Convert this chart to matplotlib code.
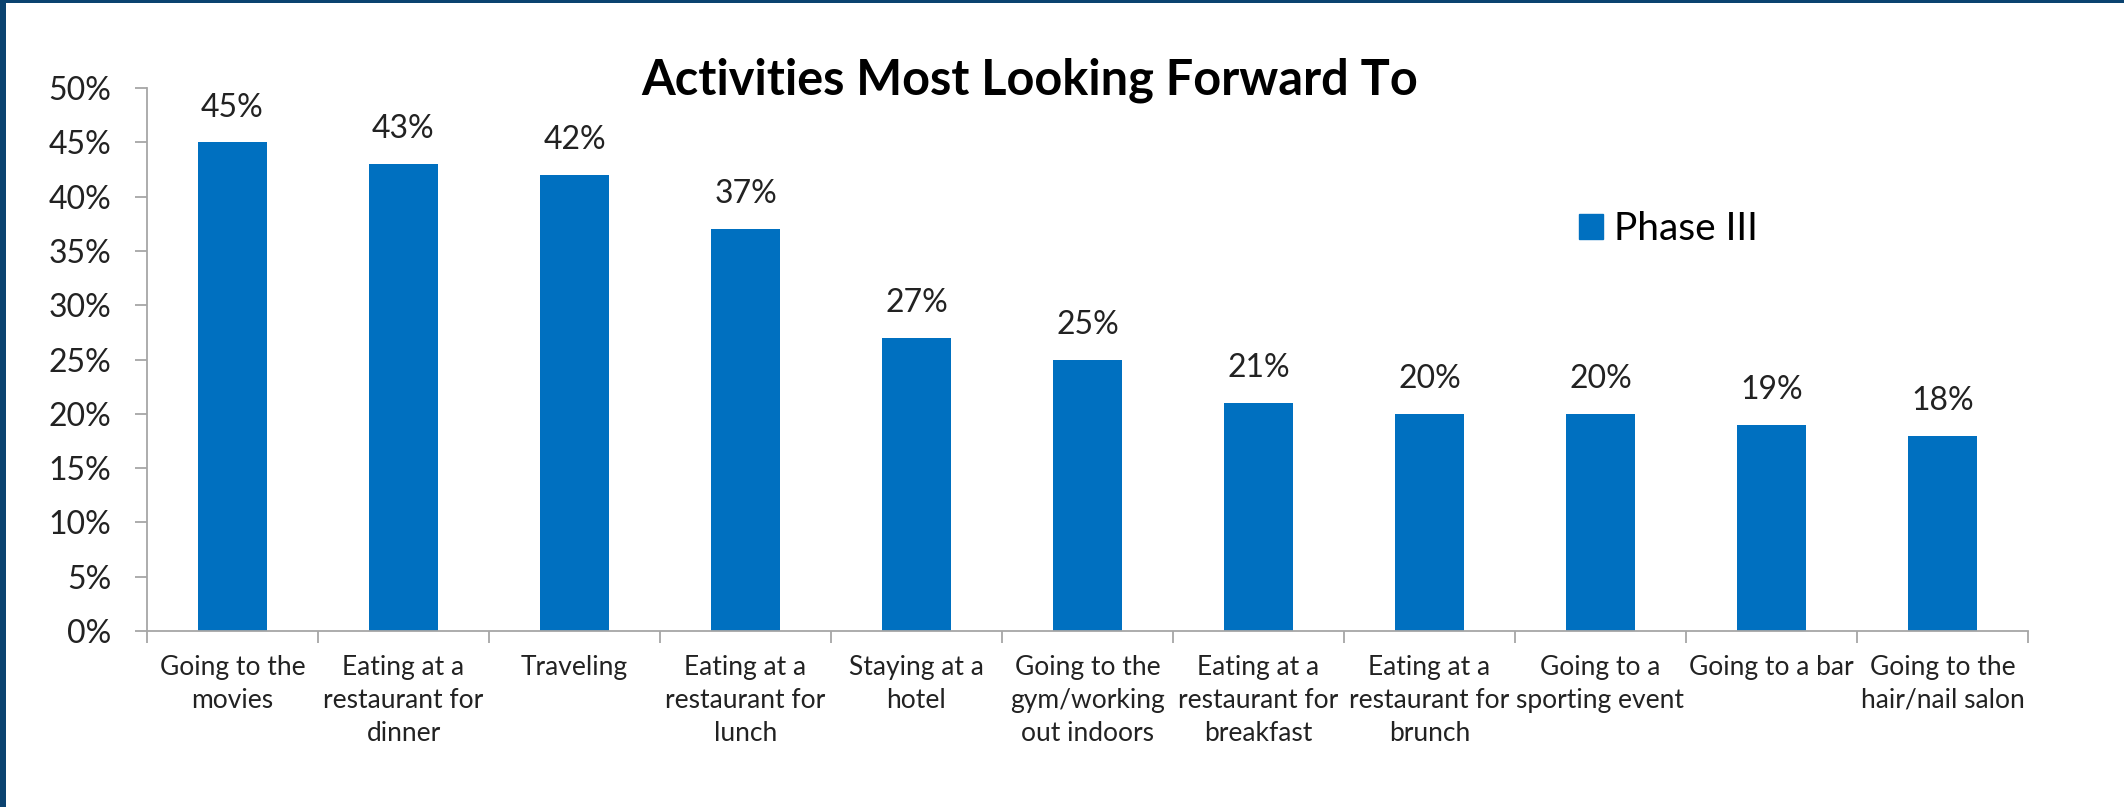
import matplotlib
matplotlib.use("Agg")
import matplotlib.pyplot as plt
from matplotlib.patches import Patch, Rectangle

activities = [
    "Going to the\nmovies",
    "Eating at a\nrestaurant for\ndinner",
    "Traveling",
    "Eating at a\nrestaurant for\nlunch",
    "Staying at a\nhotel",
    "Going to the\ngym/working\nout indoors",
    "Eating at a\nrestaurant for\nbreakfast",
    "Eating at a\nrestaurant for\nbrunch",
    "Going to a\nsporting event",
    "Going to a bar",
    "Going to the\nhair/nail salon",
]
phase3 = [45, 43, 42, 37, 27, 25, 21, 20, 20, 19, 18]
yticks = [0, 5, 10, 15, 20, 25, 30, 35, 40, 45, 50]

bar_color = "#0070C0"
axis_color = "#A6A6A6"
frame_color = "#0B4370"
text_color = "#222222"
plt.rcParams["font.family"] = ["Lato", "DejaVu Sans"]

W, H = 2124, 807
fig = plt.figure(figsize=(W / 100, H / 100), dpi=100)
ax = fig.add_axes([147 / W, 1 - 631 / H, (2028 - 147) / W, (631 - 88) / H])

x = range(len(activities))
bars = ax.bar(x, phase3, width=0.4, color=bar_color, label="Phase III")
for b, v in zip(bars, phase3):
    ax.annotate(f"{v}%", (b.get_x() + b.get_width() / 2, v),
                xytext=(0, 25), textcoords="offset points",
                ha="center", va="center", fontsize=23, color=text_color)

ax.set_xlim(-0.5, len(activities) - 0.5)
ax.set_ylim(0, 50)
ax.set_yticks(yticks)
ax.set_yticklabels([f"{t}%" for t in yticks], fontsize=23, color=text_color)

# category labels sit between the boundary ticks
ax.set_xticks([i + 0.5 for i in range(-1, len(activities))])
ax.set_xticklabels([])
ax.set_xticks(list(x), minor=True)
ax.set_xticklabels(activities, minor=True, fontsize=19, color=text_color,
                   linespacing=1.4)
ax.tick_params(axis="x", which="minor", length=0, pad=17)
ax.tick_params(axis="x", which="major", length=8.5, color=axis_color, width=1.3)
ax.tick_params(axis="y", length=8.5, color=axis_color, width=1.3, pad=17)

for s in ["top", "right"]:
    ax.spines[s].set_visible(False)
for s in ["left", "bottom"]:
    ax.spines[s].set_color(axis_color)
    ax.spines[s].set_linewidth(1.3)

fig.text(1030 / W, 1 - 80 / H, "Activities Most Looking Forward To",
         ha="center", va="center", fontsize=35, fontweight="bold", color="black")

ax.legend(handles=[Patch(color=bar_color, label="Phase III")],
          loc="center left", bbox_to_anchor=(1560 / W, 1 - 229 / H),
          bbox_transform=fig.transFigure, frameon=False, fontsize=28,
          handlelength=0.6, handleheight=0.6, handletextpad=0.3, borderpad=0)

# slide frame along the left and top edges
fig.add_artist(Rectangle((0, 0), 6 / W, 1, transform=fig.transFigure,
                         color=frame_color, lw=0))
fig.add_artist(Rectangle((0, 1 - 3 / H), 1, 3 / H, transform=fig.transFigure,
                         color=frame_color, lw=0))

fig.savefig("out.png", dpi=100)
